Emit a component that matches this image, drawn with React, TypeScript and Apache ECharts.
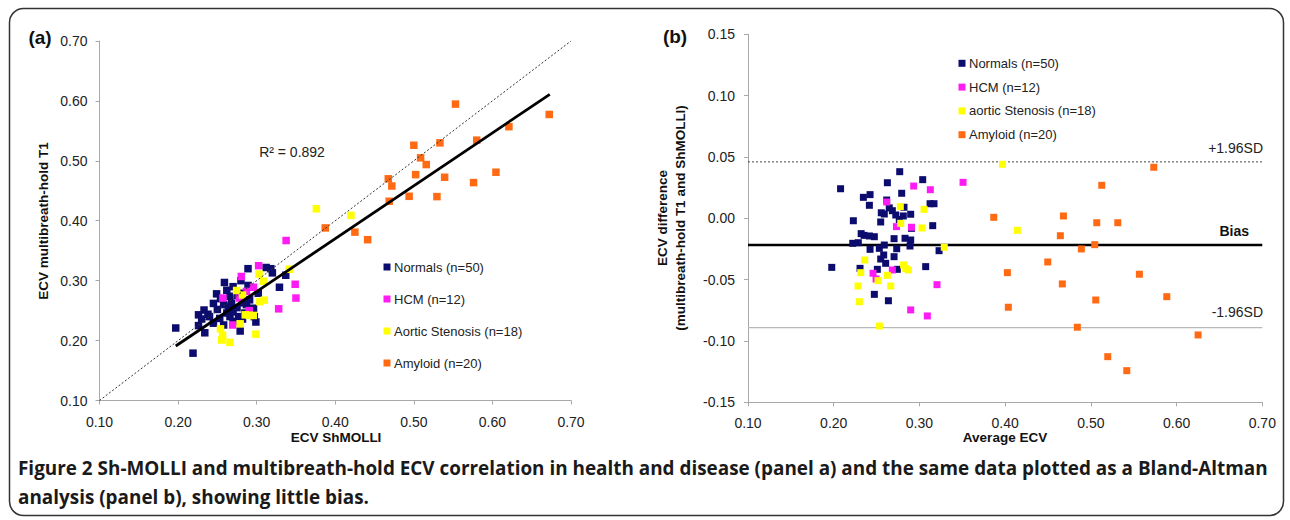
import { useEffect, useRef } from "react";
import * as echarts from "echarts";

// ---------- Panel (a): ECV multibreath-hold T1 vs ECV ShMOLLI ----------
const normalsA: number[][] = [
  [0.289, 0.320], [0.312, 0.322], [0.320, 0.313], [0.337, 0.309], [0.259, 0.297],
  [0.270, 0.290], [0.289, 0.292], [0.329, 0.289], [0.249, 0.278], [0.266, 0.274],
  [0.281, 0.279], [0.302, 0.279], [0.258, 0.260], [0.287, 0.260], [0.296, 0.254],
  [0.233, 0.251], [0.226, 0.243], [0.238, 0.244], [0.270, 0.248], [0.277, 0.240],
  [0.266, 0.240], [0.253, 0.237], [0.245, 0.229], [0.226, 0.225], [0.258, 0.226],
  [0.234, 0.213], [0.279, 0.216], [0.299, 0.231], [0.219, 0.179], [0.197, 0.221],
  [0.262, 0.284], [0.283, 0.263], [0.291, 0.268], [0.275, 0.255], [0.268, 0.252],
  [0.270, 0.232], [0.245, 0.262], [0.262, 0.246], [0.285, 0.246], [0.297, 0.240],
  [0.240, 0.240], [0.254, 0.270], [0.282, 0.236], [0.280, 0.300], [0.230, 0.236],
  [0.268, 0.262], [0.276, 0.275], [0.264, 0.257], [0.250, 0.252], [0.318, 0.320],
];
const hcmA: number[][] = [
  [0.3375, 0.367], [0.3025, 0.325], [0.2805, 0.307], [0.349, 0.294], [0.350, 0.271],
  [0.328, 0.253], [0.257, 0.271], [0.296, 0.289], [0.278, 0.271], [0.2695, 0.226],
  [0.2905, 0.250], [0.287, 0.282],
];
const aorticA: number[][] = [
  [0.303, 0.311], [0.3415, 0.319], [0.2745, 0.2836], [0.282, 0.276], [0.304, 0.265],
  [0.3097, 0.2675], [0.2906, 0.242], [0.2957, 0.242], [0.279, 0.228], [0.299, 0.2107],
  [0.254, 0.2196], [0.2567, 0.2084], [0.2555, 0.201], [0.266, 0.197], [0.3085, 0.299],
  [0.2855, 0.243], [0.376, 0.420], [0.420, 0.409],
];
const amyloidA: number[][] = [
  [0.553, 0.5947], [0.6723, 0.5774], [0.621, 0.557], [0.580, 0.5345], [0.5332, 0.530],
  [0.500, 0.526], [0.5086, 0.505], [0.5158, 0.4938], [0.5023, 0.477], [0.5392, 0.4726],
  [0.6045, 0.481], [0.576, 0.4637], [0.4675, 0.470], [0.472, 0.458], [0.494, 0.4408],
  [0.5294, 0.4403], [0.4687, 0.4325], [0.425, 0.381], [0.4412, 0.3684], [0.3873, 0.388],
];
const identityLine: number[][] = [[0.1, 0.1], [0.7, 0.7]];
const regressionLine: number[][] = [[0.197, 0.191], [0.673, 0.611]];
const rSquaredText = "R² = 0.892";

// ---------- Panel (b): Bland-Altman ----------
const normalsB: number[][] = [
  [0.277, 0.038], [0.2626, 0.029], [0.3038, 0.0315], [0.208, 0.0241], [0.2346, 0.0171],
  [0.2424, 0.0193], [0.2416, 0.0106], [0.2793, 0.0204], [0.2618, 0.0149], [0.3124, 0.0119],
  [0.317, 0.0119], [0.282, 0.009], [0.2684, 0.0062], [0.259, 0.0035], [0.2724, 0.0027],
  [0.2812, 0.0019], [0.2898, 0.0033], [0.2229, -0.002], [0.2548, -0.003], [0.3155, -0.006],
  [0.2907, -0.0082], [0.2354, -0.0139], [0.2416, -0.0144], [0.2474, -0.015], [0.2704, -0.0166],
  [0.2832, -0.0163], [0.2898, -0.0177], [0.2222, -0.0204], [0.2287, -0.0199], [0.259, -0.0218],
  [0.289, -0.0226], [0.2424, -0.0253], [0.2532, -0.0245], [0.2735, -0.0248], [0.3229, -0.0264],
  [0.2583, -0.0299], [0.2704, -0.0313], [0.2548, -0.0332], [0.2606, -0.0367], [0.1977, -0.040],
  [0.2307, -0.0408], [0.2509, -0.0416], [0.2742, -0.0416], [0.3073, -0.0394], [0.2474, -0.062],
  [0.2638, -0.0672], [0.2555, 0.0045], [0.232, -0.0125], [0.2765, -0.001], [0.2648, 0.0085],
];
const hcmB: number[][] = [
  [0.2933, 0.0263], [0.3127, 0.0233], [0.3509, 0.0293], [0.2618, 0.0133], [0.2907, -0.0073],
  [0.2732, -0.0068], [0.2459, -0.0448], [0.2684, -0.0421], [0.2494, -0.0495], [0.3205, -0.0541],
  [0.2898, -0.0747], [0.3092, -0.0796],
];
const aorticB: number[][] = [
  [0.2777, 0.0095], [0.3054, 0.0073], [0.2782, -0.0041], [0.303, -0.0079], [0.329, -0.0236],
  [0.2362, -0.034], [0.2315, -0.0443], [0.2815, -0.038], [0.2871, -0.0421], [0.2626, -0.0465],
  [0.2517, -0.0508], [0.2665, -0.0552], [0.2284, -0.0552], [0.2299, -0.068], [0.2533, -0.0878],
  [0.397, 0.044], [0.4142, -0.0098], [0.284, -0.041],
];
const amyloidB: number[][] = [
  [0.5734, 0.0416], [0.5127, 0.0269], [0.3867, 0.0008], [0.468, 0.0019], [0.5069, -0.0036],
  [0.5314, -0.0036], [0.4644, -0.0142], [0.5045, -0.0215], [0.4889, -0.025], [0.4497, -0.0356],
  [0.4026, -0.0443], [0.5566, -0.0456], [0.4667, -0.0535], [0.5886, -0.0639], [0.5057, -0.0666],
  [0.4037, -0.0725], [0.4842, -0.0888], [0.6251, -0.0951], [0.5197, -0.1128], [0.5419, -0.1242],
];
const limitXRange: number[] = [0.1, 0.7];
const upperLimit = 0.046;
const biasValue = -0.0218;
const lowerLimit = -0.0891;

const legendNamesA: string[] = ["Normals (n=50)", "HCM (n=12)", "Aortic Stenosis (n=18)", "Amyloid (n=20)"];
const legendNamesB: string[] = ["Normals (n=50)", "HCM (n=12)", "aortic Stenosis (n=18)", "Amyloid (n=20)"];
const groupColors: string[] = ["#0c0c6e", "#ff1cf4", "#ffff00", "#ff6a13"];

const captionLine1 =
  "Figure 2 Sh-MOLLI and multibreath-hold ECV correlation in health and disease (panel a) and the same data plotted as a Bland-Altman";
const captionLine2 = "analysis (panel b), showing little bias.";

const FONT = "'Liberation Sans', Arial, Helvetica, sans-serif";

export default function App() {
  const ref = useRef<HTMLDivElement>(null);

  useEffect(() => {
    if (!ref.current) return;
    const chart = echarts.init(ref.current, undefined, { renderer: "svg" });

    const axisColor = "#a8a8a8";
    const valueAxis = (gridIndex: number, min: number, max: number, interval: number, margin: number) => ({
      type: "value",
      gridIndex,
      min,
      max,
      interval,
      axisLine: { show: true, onZero: false, lineStyle: { color: axisColor, width: 1 } },
      axisTick: { show: true, inside: false, length: 4, lineStyle: { color: axisColor } },
      splitLine: { show: false },
      axisLabel: {
        show: true,
        margin,
        fontSize: 14,
        color: "#222",
        fontFamily: FONT,
        formatter: (v: number) => v.toFixed(2),
      },
    });

    const scatter = (name: string, data: number[][], idx: number, color: string, size: number) => ({
      type: "scatter",
      name,
      xAxisIndex: idx,
      yAxisIndex: idx,
      data,
      symbol: "rect",
      symbolSize: size,
      itemStyle: { color, opacity: 1 },
      z: 3,
    });

    const line = (data: number[][], idx: number, color: string, width: number, type: any, z: number) => ({
      type: "line",
      xAxisIndex: idx,
      yAxisIndex: idx,
      data,
      symbol: "none",
      showSymbol: false,
      silent: true,
      lineStyle: { color, width, type },
      z,
    });

    const legendGraphic = (names: string[], x: number, y0: number, gap: number) => {
      const els: any[] = [];
      names.forEach((n, i) => {
        const y = y0 + i * gap;
        els.push({
          type: "rect",
          shape: { x: x - 3.5, y: y - 3.5, width: 7, height: 7 },
          style: { fill: groupColors[i] },
        });
        els.push({
          type: "text",
          x: x + 7,
          y,
          style: { text: n, fontSize: 13, fontFamily: FONT, fill: "#222", align: "left", verticalAlign: "middle" },
        });
      });
      return els;
    };

    const option: any = {
      animation: false,
      backgroundColor: "#ffffff",
      textStyle: { fontFamily: FONT },
      grid: [
        { left: 99.5, top: 41, width: 471.5, height: 359.5 },
        { left: 748, top: 34.3, width: 514.3, height: 368 },
      ],
      xAxis: [valueAxis(0, 0.1, 0.7, 0.1, 14), valueAxis(1, 0.1, 0.7, 0.1, 14)],
      yAxis: [valueAxis(0, 0.1, 0.7, 0.1, 12), valueAxis(1, -0.15, 0.15, 0.05, 13)],
      series: [
        scatter(legendNamesA[0], normalsA, 0, groupColors[0], 7.5),
        scatter(legendNamesA[1], hcmA, 0, groupColors[1], 7.5),
        scatter(legendNamesA[2], aorticA, 0, groupColors[2], 7.5),
        scatter(legendNamesA[3], amyloidA, 0, groupColors[3], 7.5),
        line(identityLine, 0, "#333", 1, [2, 2], 5),
        line(regressionLine, 0, "#000", 2.8, "solid", 5),
        line(limitXRange.map((x) => [x, upperLimit]), 1, "#444", 1, [2, 2], 2),
        line(limitXRange.map((x) => [x, biasValue]), 1, "#000", 2.5, "solid", 2),
        line(limitXRange.map((x) => [x, lowerLimit]), 1, "#b8b8b8", 1.2, "solid", 2),
        scatter(legendNamesB[0], normalsB, 1, groupColors[0], 7),
        scatter(legendNamesB[1], hcmB, 1, groupColors[1], 7),
        scatter(legendNamesB[2], aorticB, 1, groupColors[2], 7),
        scatter(legendNamesB[3], amyloidB, 1, groupColors[3], 7),
      ],
      graphic: [
        {
          type: "rect",
          shape: { x: 9.5, y: 8.5, width: 1274, height: 507, r: 14 },
          style: { fill: "none", stroke: "#333", lineWidth: 1.5 },
          z: -1,
        },
        {
          type: "text", x: 40, y: 37,
          style: { text: "(a)", font: `bold 19px ${FONT}`, fill: "#111", align: "center", verticalAlign: "middle" },
        },
        {
          type: "text", x: 675, y: 36,
          style: { text: "(b)", font: `bold 19px ${FONT}`, fill: "#111", align: "center", verticalAlign: "middle" },
        },
        {
          type: "text", x: 292, y: 152,
          style: { text: rSquaredText, fontSize: 14, fontFamily: FONT, fill: "#222", align: "center", verticalAlign: "middle" },
        },
        {
          type: "text", x: 336, y: 437,
          style: { text: "ECV ShMOLLI", font: `bold 13.5px ${FONT}`, fill: "#111", align: "center", verticalAlign: "middle" },
        },
        {
          type: "text", x: 1005, y: 437,
          style: { text: "Average ECV", font: `bold 13.5px ${FONT}`, fill: "#111", align: "center", verticalAlign: "middle" },
        },
        {
          type: "text", x: 43, y: 221, rotation: Math.PI / 2,
          style: { text: "ECV multibreath-hold T1", font: `bold 13.5px ${FONT}`, fill: "#111", align: "center", verticalAlign: "middle" },
        },
        {
          type: "text", x: 671, y: 218, rotation: Math.PI / 2,
          style: {
            text: "ECV difference\n(multibreath-hold T1 and ShMOLLI)",
            font: `bold 13.5px ${FONT}`, lineHeight: 18, fill: "#111", align: "center", verticalAlign: "middle",
          },
        },
        {
          type: "text", x: 1263, y: 148,
          style: { text: "+1.96SD", fontSize: 14, fontFamily: FONT, fill: "#222", align: "right", verticalAlign: "middle" },
        },
        {
          type: "text", x: 1249, y: 231,
          style: { text: "Bias", font: `bold 14px ${FONT}`, fill: "#111", align: "right", verticalAlign: "middle" },
        },
        {
          type: "text", x: 1263, y: 312,
          style: { text: "-1.96SD", fontSize: 14, fontFamily: FONT, fill: "#222", align: "right", verticalAlign: "middle" },
        },
        ...legendGraphic(legendNamesA, 387, 267, 32),
        ...legendGraphic(legendNamesB, 962, 63.3, 23.8),
        {
          type: "text", x: 18, y: 468,
          style: { text: captionLine1, font: `bold 18.9px 'Open Sans', ${FONT}`, fill: "#1a1a1a", align: "left", verticalAlign: "middle" },
        },
        {
          type: "text", x: 18, y: 497,
          style: { text: captionLine2, font: `bold 18.9px 'Open Sans', ${FONT}`, fill: "#1a1a1a", align: "left", verticalAlign: "middle" },
        },
      ],
    };

    chart.setOption(option);
    return () => chart.dispose();
  }, []);

  return (
    <div
      ref={ref}
      style={{ position: "fixed", left: 0, top: 0, width: "1290px", height: "520px", background: "#fff" }}
    />
  );
}
